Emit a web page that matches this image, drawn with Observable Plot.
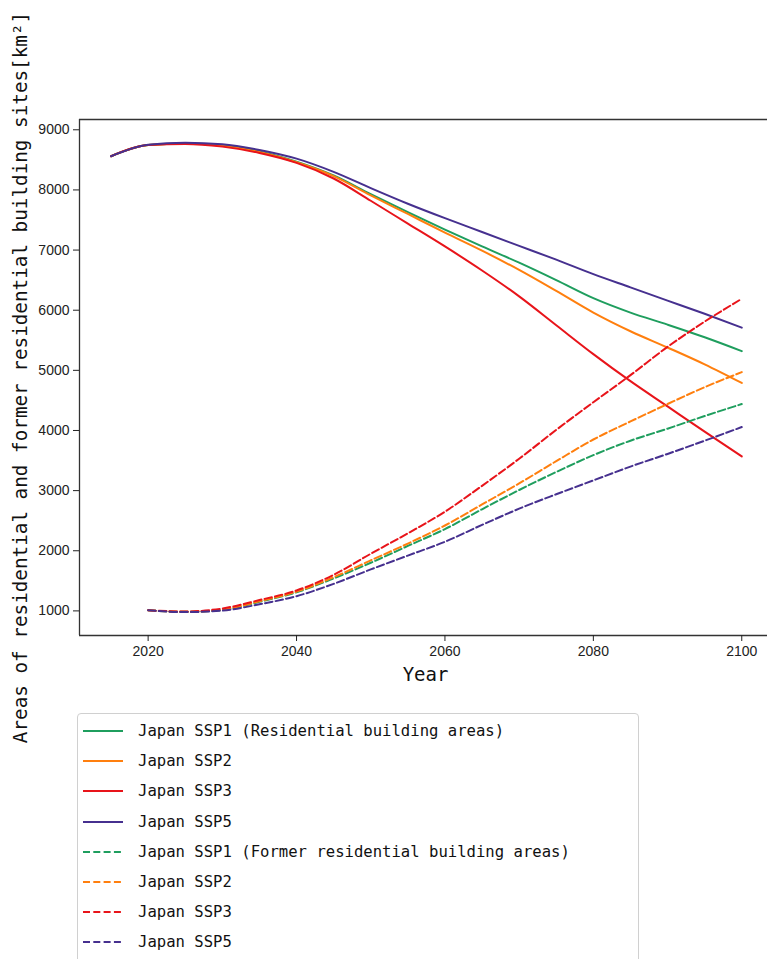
<!DOCTYPE html>
<html>
<head>
<meta charset="utf-8">
<script src="https://cdn.jsdelivr.net/npm/d3@7"></script>
<script src="https://cdn.jsdelivr.net/npm/@observablehq/plot@0.6"></script>
<style>
  html, body { margin: 0; padding: 0; background: #fff; overflow: hidden; }
  #chart svg { display: block; }
  #legend {
    position: absolute; left: 77px; top: 713px; width: 562px; height: 260px;
    border: 1px solid #d0d0d0; border-radius: 4px; box-sizing: border-box;
    padding: 2px 0 0 5px; background: #fff;
    font-family: "DejaVu Sans Mono", monospace; font-size: 15.6px; color: #111;
  }
  .row { height: 30.2px; display: flex; align-items: center; }
  .row svg { width: 40px; height: 6px; margin-right: 15px; flex: none; }
</style>
</head>
<body>
<div id="chart"></div>
<div id="legend"></div>
<script>
// ---- data ----
const yearsSolid = [2015, 2020, 2025, 2030, 2035, 2040, 2045, 2050, 2055, 2060, 2065, 2070, 2075, 2080, 2085, 2090, 2095, 2100];
const yearsDashed = [2020, 2025, 2030, 2035, 2040, 2045, 2050, 2055, 2060, 2065, 2070, 2075, 2080, 2085, 2090, 2095, 2100];

const resSSP1 = [8560, 8745, 8770, 8740, 8640, 8470, 8240, 7930, 7630, 7340, 7060, 6790, 6500, 6200, 5960, 5760, 5550, 5320];
const resSSP2 = [8560, 8745, 8770, 8735, 8630, 8460, 8230, 7910, 7600, 7290, 6990, 6670, 6320, 5960, 5650, 5380, 5100, 4790];
const resSSP3 = [8560, 8745, 8765, 8720, 8615, 8450, 8190, 7820, 7440, 7060, 6660, 6230, 5750, 5270, 4820, 4400, 3980, 3570];
const resSSP5 = [8560, 8750, 8785, 8760, 8665, 8520, 8300, 8030, 7770, 7530, 7300, 7070, 6840, 6600, 6380, 6160, 5940, 5710];

const formerSSP1 = [1010, 985, 1015, 1150, 1310, 1540, 1800, 2080, 2360, 2690, 3010, 3310, 3590, 3830, 4030, 4240, 4440];
const formerSSP2 = [1010, 985, 1020, 1160, 1320, 1560, 1840, 2120, 2420, 2770, 3120, 3490, 3850, 4150, 4440, 4720, 4970];
const formerSSP3 = [1010, 990, 1040, 1180, 1340, 1600, 1950, 2290, 2650, 3080, 3530, 4010, 4470, 4920, 5390, 5810, 6190];
const formerSSP5 = [1010, 980, 1005, 1110, 1245, 1450, 1690, 1920, 2150, 2430, 2700, 2940, 3170, 3400, 3610, 3830, 4057];

const scenarios = ["SSP1", "SSP2", "SSP3", "SSP5"];
const colors = ["#1f9e5e", "#ff7f0e", "#e8141a", "#46308f"];
const legendLabels = [
  "Japan SSP1 (Residential building areas)", "Japan SSP2", "Japan SSP3", "Japan SSP5",
  "Japan SSP1 (Former residential building areas)", "Japan SSP2", "Japan SSP3", "Japan SSP5"
];
const xTicks = [2020, 2040, 2060, 2080, 2100];
const yTicks = [1000, 2000, 3000, 4000, 5000, 6000, 7000, 8000, 9000];
const xLabel = "Year";
const yLabel = "Areas of residential and former residential building sites[km²]";

// ---- build tables ----
const resSeries = [resSSP1, resSSP2, resSSP3, resSSP5];
const formerSeries = [formerSSP1, formerSSP2, formerSSP3, formerSSP5];
const solidRows = resSeries.map((vals, i) => vals.map((v, j) => ({year: yearsSolid[j], value: v, key: scenarios[i]})));
const dashedRows = formerSeries.map((vals, i) => vals.map((v, j) => ({year: yearsDashed[j], value: v, key: scenarios[i]})));

const xDomain = [2010.75, 2103.47];
const yDomain = [591, 9171];
const dash = "7.5,3.2";

const marks = [
  Plot.ruleY([yDomain[0]], {stroke: "#333", strokeWidth: 1.3}),
  Plot.ruleY([yDomain[1]], {stroke: "#333", strokeWidth: 1.3}),
  Plot.ruleX([xDomain[0]], {stroke: "#333", strokeWidth: 1.3}),
  Plot.axisX({ticks: xTicks, tickFormat: d => String(d), tickSize: 6, tickPadding: 5, label: null, fontSize: 14}),
  Plot.axisY({ticks: yTicks, tickFormat: d => String(d), tickSize: 6, tickPadding: 4, label: null, fontSize: 14}),
];
solidRows.forEach((rows, i) => marks.push(Plot.line(rows, {x: "year", y: "value", stroke: colors[i], strokeWidth: 2, curve: "monotone-x"})));
dashedRows.forEach((rows, i) => marks.push(Plot.line(rows, {x: "year", y: "value", stroke: colors[i], strokeWidth: 2, strokeDasharray: dash, curve: "monotone-x"})));
marks.push(Plot.text([xLabel], {frameAnchor: "bottom", dx: 2, dy: 45, text: d => d, fontSize: 19, fontFamily: "DejaVu Sans Mono", fill: "#111"}));
marks.push(Plot.text([yLabel], {frameAnchor: "left", dx: -59, rotate: -90, textAnchor: "middle", text: d => d, fontSize: 19.3, fontFamily: "DejaVu Sans Mono", fill: "#111"}));

const chart = Plot.plot({
  width: 767, height: 760,
  marginTop: 119, marginLeft: 79, marginRight: 0, marginBottom: 125,
  style: {fontFamily: "Liberation Sans", fontSize: "14px", color: "#222", overflow: "visible"},
  x: {type: "linear", domain: xDomain},
  y: {type: "linear", domain: yDomain},
  marks
});
document.getElementById("chart").appendChild(chart);

// ---- legend ----
const legend = d3.select("#legend");
legendLabels.forEach((lab, i) => {
  const row = legend.append("div").attr("class", "row");
  const s = row.append("svg").attr("viewBox", "0 0 40 6");
  s.append("line").attr("x1", 0).attr("x2", 40).attr("y1", 3).attr("y2", 3)
    .attr("stroke", colors[i % 4]).attr("stroke-width", 2)
    .attr("stroke-dasharray", i >= 4 ? "7,3.3" : null);
  row.append("span").text(lab);
});
</script>
</body>
</html>
